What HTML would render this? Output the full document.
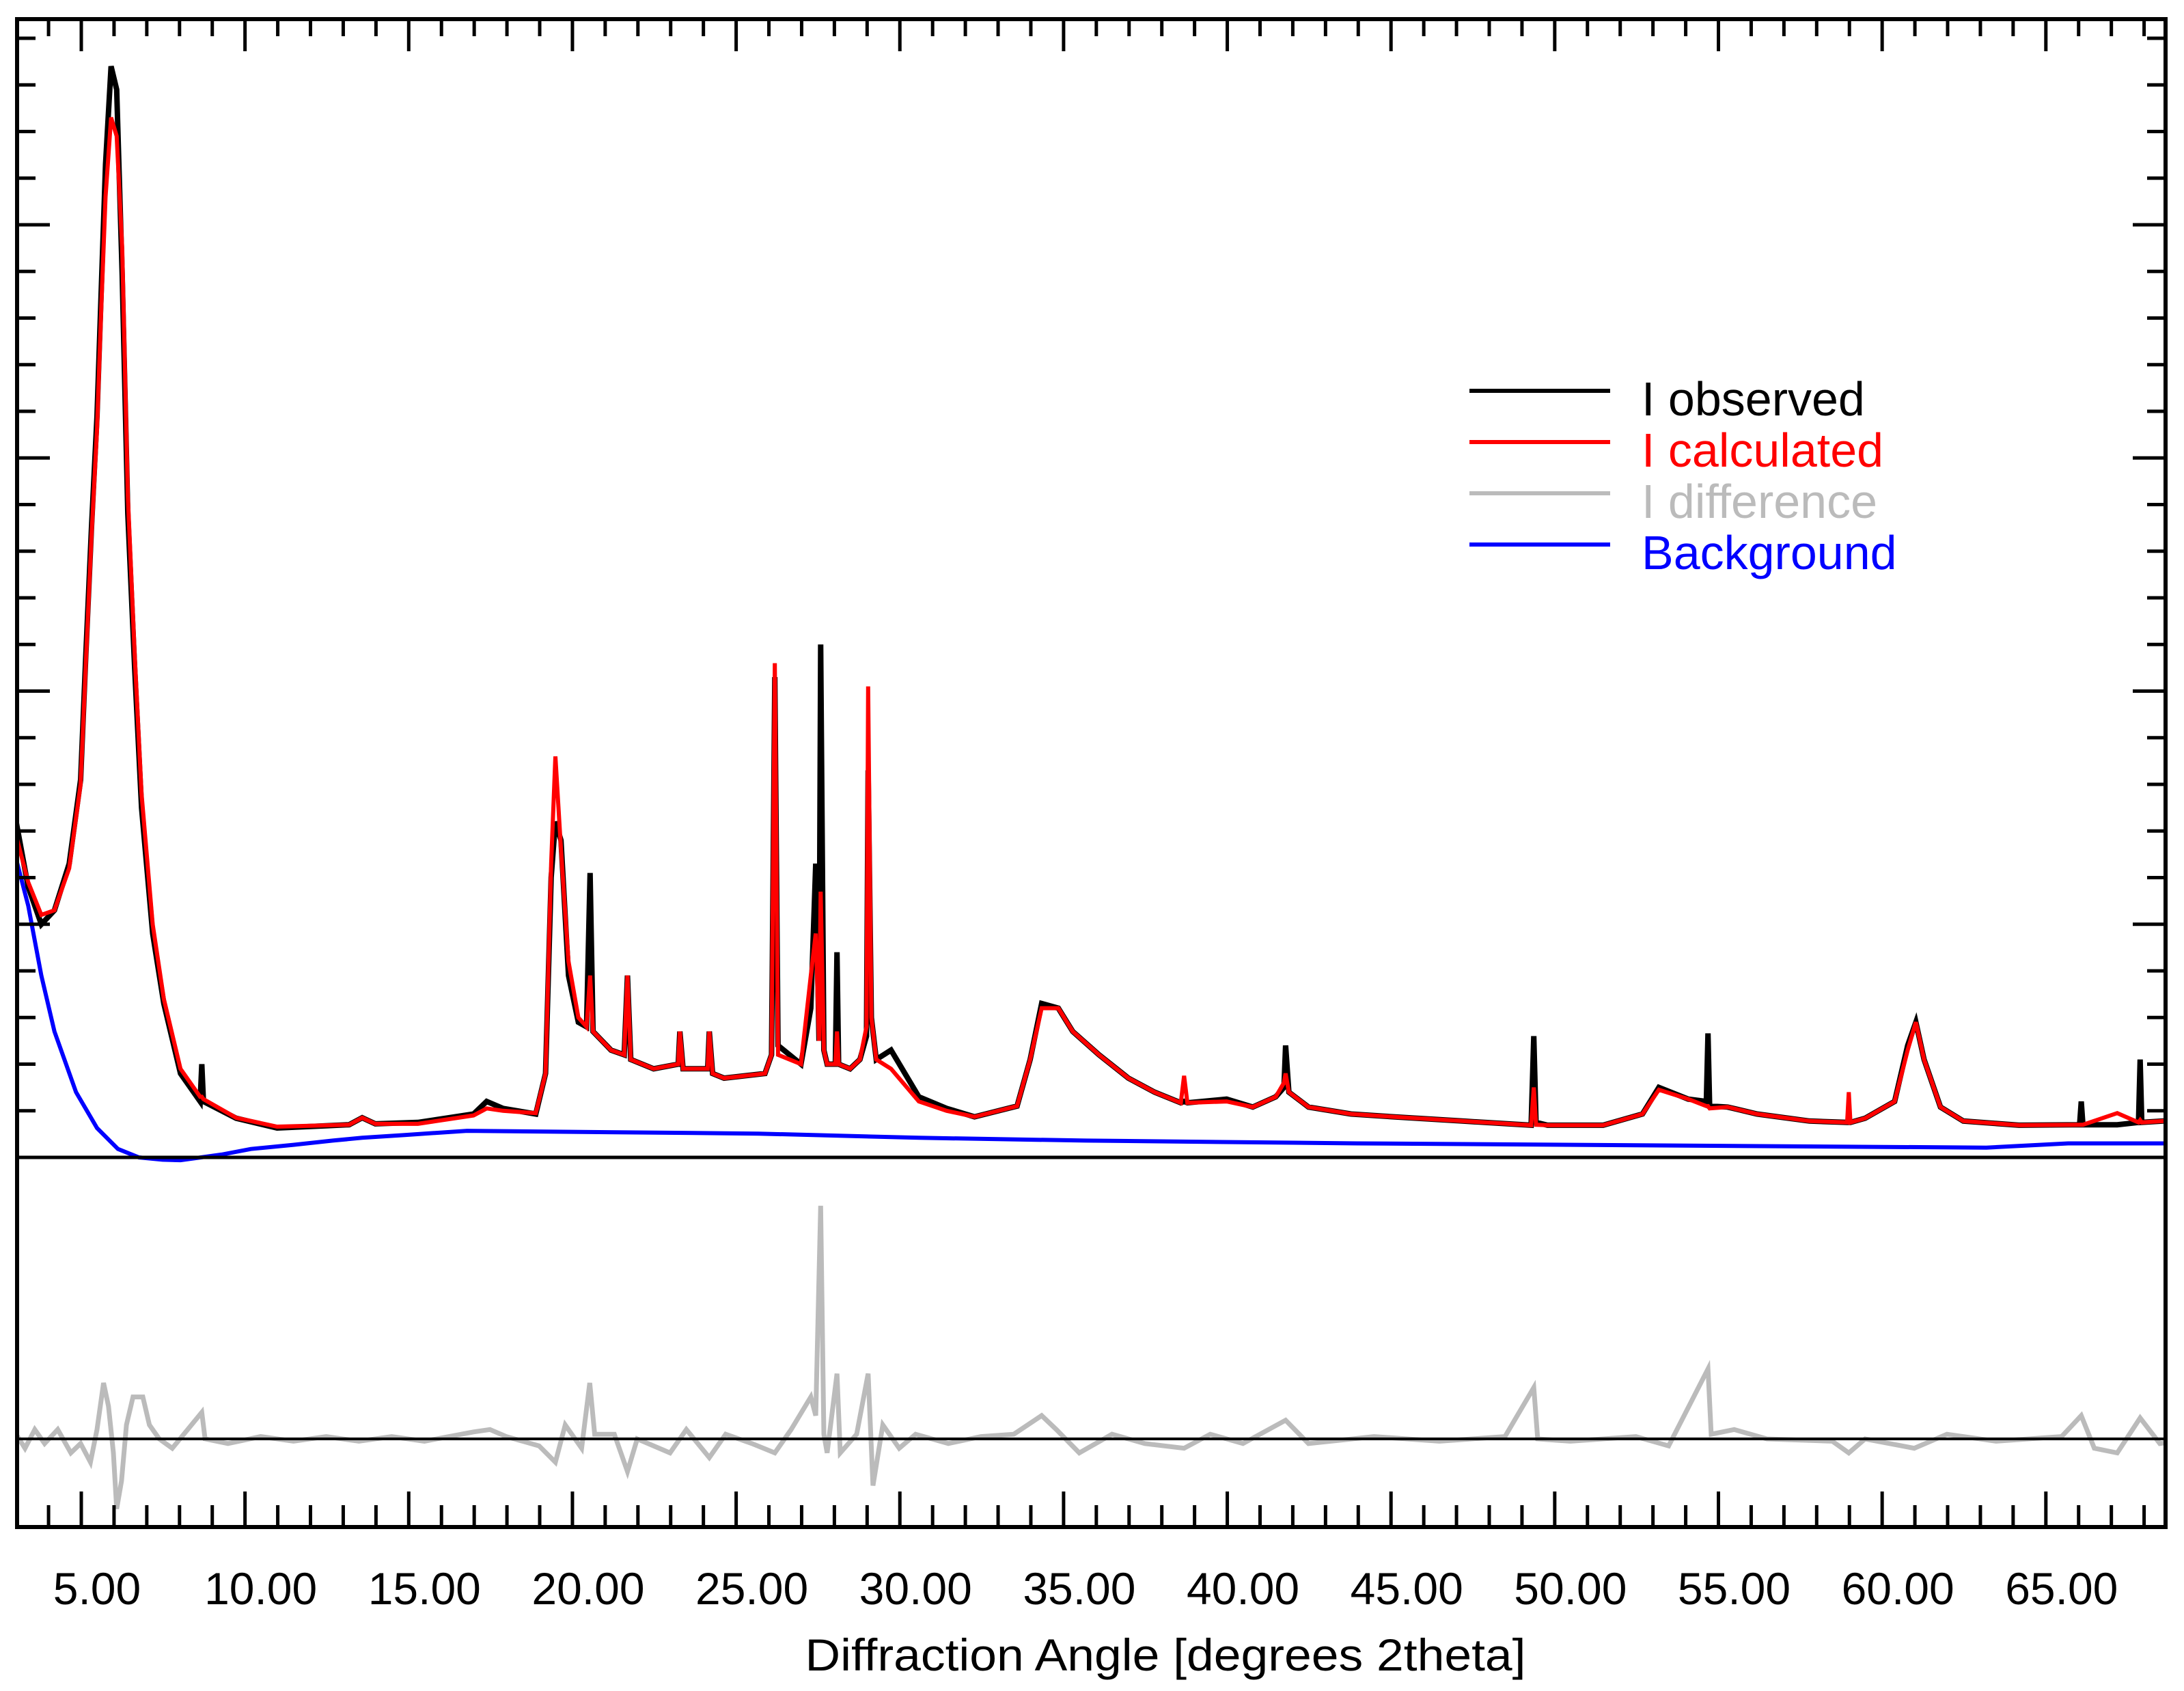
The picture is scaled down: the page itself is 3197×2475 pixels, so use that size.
<!DOCTYPE html>
<html><head><meta charset="utf-8"><style>
html,body{margin:0;padding:0;background:#fff;}
svg{display:block;font-family:"Liberation Sans",Arial,sans-serif;}
</style></head><body>
<svg id="chart" width="3197" height="2475" viewBox="0 0 3197 2475" xmlns="http://www.w3.org/2000/svg">
<g id="marks"></g>
<g id="axes"></g>
<g id="legend">
  <line x1="2151" y1="572" x2="2357" y2="572" stroke="#000" stroke-width="6"/>
  <text x="2403" y="608" font-size="70" fill="#000">I observed</text>
  <line x1="2151" y1="647" x2="2357" y2="647" stroke="#f00" stroke-width="6"/>
  <text x="2403" y="683" font-size="70" fill="#f00">I calculated</text>
  <line x1="2151" y1="722" x2="2357" y2="722" stroke="#bbb" stroke-width="6"/>
  <text x="2403" y="758" font-size="70" fill="#bbb">I difference</text>
  <line x1="2151" y1="797" x2="2357" y2="797" stroke="#00f" stroke-width="6"/>
  <text x="2403" y="833" font-size="70" fill="#00f">Background</text>
</g>
<text x="1706" y="2445" font-size="66" text-anchor="middle" textLength="1055" lengthAdjust="spacingAndGlyphs">Diffraction Angle [degrees 2theta]</text>
</svg>
<script>
const angles = [2.53,2.9,3.3,3.7,4.15,4.5,4.66,4.83,5.0,5.13,5.26,5.43,5.6,5.77,5.94,6.15,6.36,6.7,7.04,7.55,8.15,8.2,8.25,9.25,10.5,12.7,13.1,13.5,14.8,16.5,16.9,17.4,18.4,18.7,18.87,19.0,19.17,19.4,19.7,19.95,20.06,20.15,20.7,21.1,21.2,21.3,22.0,22.75,22.8,22.9,23.65,23.7,23.8,24.15,25.4,25.6,25.7,25.8,26.5,26.8,26.95,27.05,27.1,27.2,27.3,27.55,27.6,27.65,28.0,28.3,28.5,28.55,28.65,28.8,29.25,30.1,30.95,31.8,33.1,33.5,33.85,34.36,34.8,35.6,36.5,37.3,38.1,38.2,38.3,39.5,40.3,41.0,41.25,41.3,41.4,42.0,43.3,44.6,46.7,48.8,48.88,48.95,49.3,51.0,52.2,52.7,53.6,54.15,54.2,54.25,54.8,55.7,57.3,58.45,58.5,58.55,59.0,59.9,60.3,60.55,60.8,61.3,62.0,63.7,65.55,65.6,65.65,66.7,67.35,67.4,67.45,68.1,68.95];
const observed = [7.2,5.8,5.0,5.3,6.3,8.1,10.8,13.5,15.9,18.6,21.3,23.4,22.9,18.9,13.8,10.5,7.5,4.8,3.3,1.8,1.2,2.0,1.2,0.84,0.63,0.7,0.85,0.72,0.75,0.93,1.2,1.05,0.93,1.8,6.0,7.2,6.8,3.9,2.9,2.8,6.1,2.7,2.3,2.2,3.9,2.1,1.9,2.0,2.7,1.9,1.9,2.7,1.8,1.7,1.8,2.2,10.3,2.4,2.0,3.2,6.3,2.5,11.0,2.3,2.0,2.0,4.4,2.0,1.9,2.1,2.6,8.3,3.0,2.1,2.3,1.3,1.05,0.87,1.1,2.1,3.3,3.2,2.7,2.2,1.7,1.4,1.17,1.2,1.17,1.25,1.08,1.3,1.5,2.4,1.4,1.08,0.93,0.87,0.78,0.69,2.6,0.75,0.69,0.69,0.93,1.5,1.25,1.2,2.66,1.1,1.08,0.93,0.78,0.75,0.75,0.75,0.84,1.2,2.4,2.9,2.1,1.08,0.78,0.69,0.7,1.2,0.7,0.7,0.75,2.1,0.75,0.78,0.78];
const calculated = [6.9,5.9,5.2,5.3,6.2,8.0,10.6,13.3,15.6,18.2,20.6,22.3,21.9,19.5,14.2,10.8,7.8,5.0,3.4,1.9,1.3,1.3,1.25,0.85,0.66,0.7,0.85,0.72,0.72,0.9,1.05,1.0,0.95,1.8,6.3,8.6,6.6,4.2,3.0,2.8,3.9,2.7,2.3,2.2,3.9,2.1,1.9,2.0,2.7,1.9,1.9,2.7,1.8,1.7,1.8,2.2,10.6,2.2,2.0,3.9,4.8,2.5,5.7,2.3,2.0,2.0,2.7,2.0,1.9,2.1,2.8,10.1,3.0,2.1,1.9,1.2,1.0,0.87,1.1,2.1,3.2,3.2,2.7,2.2,1.7,1.4,1.17,1.75,1.17,1.2,1.08,1.3,1.6,1.8,1.4,1.08,0.93,0.87,0.78,0.69,1.5,0.7,0.69,0.69,0.93,1.45,1.25,1.1,1.1,1.05,1.08,0.93,0.78,0.75,1.4,0.75,0.84,1.2,2.3,2.9,2.1,1.08,0.78,0.69,0.7,0.7,0.7,0.95,0.75,0.8,0.75,0.78,0.78];
const bgAngles = [2.53,2.9,3.3,3.7,4.36,5.0,5.64,6.28,7.0,7.55,8.8,9.7,11.0,12.2,13.1,14.4,16.3,25.2,30.1,35.2,43.5,62.7,65.2,68.95];
const bgValues = [6.4,5.4,3.9,2.7,1.4,0.63,0.18,0.0,-0.05,-0.06,0.06,0.18,0.27,0.36,0.42,0.48,0.57,0.51,0.42,0.36,0.30,0.21,0.30,0.30];
const diffAngles = [2.53,2.8,3.1,3.4,3.8,4.2,4.5,4.8,5.0,5.2,5.35,5.5,5.6,5.75,5.9,6.1,6.4,6.6,6.9,7.3,8.2,8.3,9,10,11,12,13,14,15,16.5,17,17.5,18.5,19.0,19.3,19.8,20.05,20.2,20.8,21.2,21.5,22.5,23,23.7,24.2,25,25.7,26.2,26.8,26.95,27.1,27.2,27.3,27.6,27.7,28.2,28.55,28.7,29.0,29.5,30,31,32,33,33.85,34.3,35,36,37,38.2,39,40,41.3,42,44,46,48,48.88,49,50,52,53,54.2,54.3,55,56,58,58.5,59,60.5,61.5,63,65,65.6,66,66.7,67.4,68,68.95];
const diffValues = [0.1,-0.2,0.2,-0.1,0.2,-0.3,-0.1,-0.5,0.2,1.2,0.7,-0.3,-1.5,-0.9,0.3,0.9,0.9,0.3,0.0,-0.2,0.57,0,-0.1,0.05,-0.05,0.05,-0.05,0.05,-0.05,0.15,0.2,0.05,-0.15,-0.5,0.3,-0.2,1.2,0.1,0.1,-0.7,0,-0.3,0.2,-0.4,0.1,-0.1,-0.3,0.2,0.9,0.5,5.0,0.1,-0.3,1.4,-0.3,0.1,1.4,-1.0,0.3,-0.2,0.1,-0.1,0.05,0.1,0.5,0.2,-0.3,0.1,-0.1,-0.2,0.1,-0.1,0.4,-0.1,0.05,-0.05,0.05,1.1,0,-0.05,0.05,-0.15,1.5,0.1,0.2,0,-0.05,-0.3,0,-0.2,0.1,-0.05,0.05,0.5,-0.2,-0.3,0.45,-0.1,0];
const tickLabels = ["5.00","10.00","15.00","20.00","25.00","30.00","35.00","40.00","45.00","50.00","55.00","60.00","65.00"];
const tickValues = [5,10,15,20,25,30,35,40,45,50,55,60,65];

const L=25,R=3170,T=28,B=2235,Z0=1694,DZ=2106,UNIT=68.25;
function X(d){return 142+(d-5)*47.93;}
function Y(v){return Z0-v*UNIT;}
function YD(v){return DZ-v*UNIT;}
const NS='http://www.w3.org/2000/svg';
const marks=document.getElementById('marks');
const axes=document.getElementById('axes');
function mk(tag,attrs,parent){const e=document.createElementNS(NS,tag);for(const k in attrs)e.setAttribute(k,attrs[k]);parent.appendChild(e);return e;}

const clip=mk('clipPath',{id:'pc'},marks);
mk('rect',{x:L,y:T,width:R-L,height:B-T},clip);

function poly(xs,ys,fy,color,w,name){
  const pts=xs.map((a,i)=>X(a).toFixed(1)+','+fy(ys[i]).toFixed(1)).join(' ');
  const p=mk('polyline',{points:pts,fill:'none',stroke:color,'stroke-width':w,'stroke-linejoin':'miter','clip-path':'url(#pc)'},marks);
  
  
}
poly(diffAngles,diffValues,YD,'#bbb',7,'difference-line');
const dz=mk('line',{x1:L,y1:DZ,x2:R,y2:DZ,stroke:'#000','stroke-width':4},marks);


poly(bgAngles,bgValues,Y,'#00f',6,'background-line');
poly(angles,observed,Y,'#000',8,'observed-line');
poly(angles,calculated,Y,'#f00',6,'calculated-line');

const sep=mk('line',{x1:L,y1:Z0,x2:R,y2:Z0,stroke:'#000','stroke-width':5},axes);


const fr=mk('rect',{x:L,y:T,width:R-L,height:B-T,fill:'none',stroke:'#000','stroke-width':6},axes);



for(let d=3; d<=68; d++){
  const x=X(d)-23; if(x<L+3||x>R-3) continue;
  const major=(d%5===0);
  const t1=mk('line',{x1:x,y1:B,x2:x,y2:B-(major?52:32),stroke:'#000','stroke-width':5},axes);
  
  
  const t2=mk('line',{x1:x,y1:T,x2:x,y2:T+(major?47:25),stroke:'#000','stroke-width':5},axes);
  
  
}
tickValues.forEach((v,i)=>{
  const t=mk('text',{x:X(v),y:2348,'font-size':66,'text-anchor':'middle'},axes);
  t.textContent=tickLabels[i];
  
  
});
for(let k=1;k<=24;k++){
  const y=Z0-k*UNIT; const major=(k%5===0);
  const a=mk('line',{x1:L,y1:y,x2:L+(major?48:27),y2:y,stroke:'#000','stroke-width':5},axes);
  
  
  const b=mk('line',{x1:R,y1:y,x2:R-(major?48:27),y2:y,stroke:'#000','stroke-width':5},axes);
  
  
}
</script>
</body></html>
